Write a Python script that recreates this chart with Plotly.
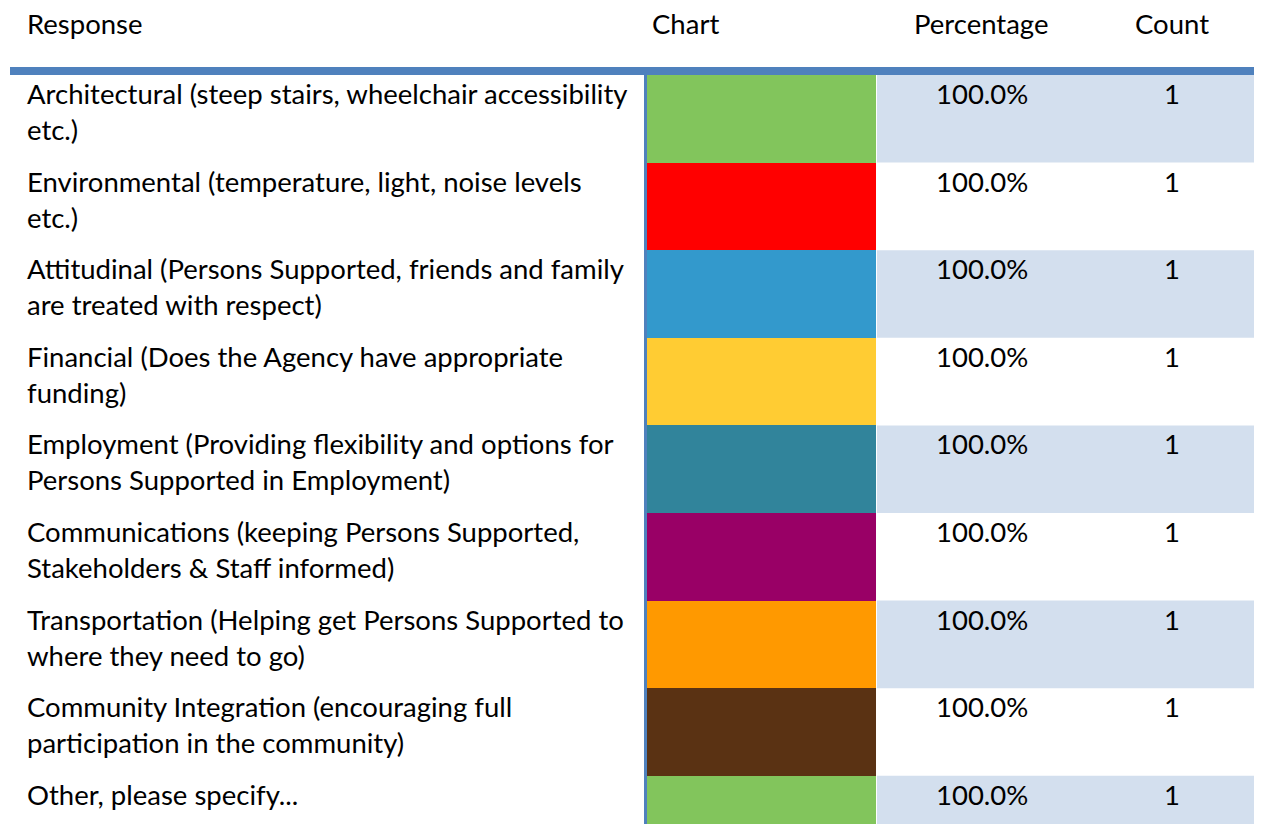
import plotly.graph_objects as go

responses = [
    "Architectural (steep stairs, wheelchair accessibility<br>etc.)",
    "Environmental (temperature, light, noise levels<br>etc.)",
    "Attitudinal (Persons Supported, friends and family<br>are treated with respect)",
    "Financial (Does the Agency have appropriate<br>funding)",
    "Employment (Providing flexibility and options for<br>Persons Supported in Employment)",
    "Communications (keeping Persons Supported,<br>Stakeholders & Staff informed)",
    "Transportation (Helping get Persons Supported to<br>where they need to go)",
    "Community Integration (encouraging full<br>participation in the community)",
    "Other, please specify...",
]
percentages = [100.0, 100.0, 100.0, 100.0, 100.0, 100.0, 100.0, 100.0, 100.0]
counts = [1, 1, 1, 1, 1, 1, 1, 1, 1]
bar_colors = ["#82C55C", "#FF0000", "#3399CC", "#FFCC33", "#31849B",
              "#990066", "#FF9900", "#5A3213", "#82C55C"]
headers = ["Response", "Chart", "Percentage", "Count"]

# the page body adds an 8px margin; work in screen pixels and convert
OFF = 8
W, H = 1262 - OFF, 824 - OFF
TOP = 75 - OFF
FONT = "Lato"
FS = 27.5
BORDER = "#4F81BD"
BAND = "#D3DFEE"


def px(xs):
    return (xs - OFF) / W


rows = list(range(len(responses)))
row_px = 87.6
plot_h = H - TOP
y_bottom = -0.5 + plot_h / row_px

fig = go.Figure()
fig.add_trace(go.Bar(
    x=percentages, y=rows, orientation="h", width=1,
    marker=dict(color=bar_colors, line=dict(width=0)),
    xaxis="x2", yaxis="y", hoverinfo="skip", showlegend=False,
))

shapes = []
for i in rows:
    if i % 2 == 0:
        shapes.append(dict(type="rect", xref="paper", yref="y",
                           x0=px(877), x1=px(1257), y0=i - 0.5, y1=i + 0.5,
                           fillcolor=BAND, line=dict(width=0), layer="below"))
shapes.append(dict(type="rect", xref="paper", yref="paper",
                   x0=px(10), x1=px(1260), y0=1, y1=1 + 8 / plot_h,
                   fillcolor=BORDER, line=dict(width=0)))
shapes.append(dict(type="rect", xref="paper", yref="paper",
                   x0=px(644), x1=px(647), y0=0, y1=1,
                   fillcolor=BORDER, line=dict(width=0)))
shapes.append(dict(type="rect", xref="paper", yref="paper",
                   x0=px(1257), x1=px(1260), y0=0, y1=1,
                   fillcolor=BORDER, line=dict(width=0)))

annotations = []
tfont = dict(family=FONT, size=FS, color="#000000")
for i in rows:
    annotations.append(dict(x=px(24.5), xref="paper", y=i - 0.5, yref="y",
                            text=responses[i], showarrow=False, xanchor="left",
                            yanchor="top", align="left", yshift=0, font=tfont))
    annotations.append(dict(x=px(981.5), xref="paper", y=i - 0.5, yref="y",
                            text=f"{percentages[i]:.1f}%", showarrow=False,
                            xanchor="center", yanchor="top", yshift=0, font=tfont))
    annotations.append(dict(x=px(1172), xref="paper", y=i - 0.5, yref="y",
                            text=str(counts[i]), showarrow=False,
                            xanchor="center", yanchor="top", yshift=0, font=tfont))

header_x = [(24.5, "left"), (685, "center"), (981, "center"), (1171.5, "center")]
for (hx, anc), h in zip(header_x, headers):
    annotations.append(dict(x=px(hx), xref="paper",
                            y=1 + (TOP - (23 - OFF)) / plot_h, yref="paper",
                            text=h, showarrow=False, xanchor=anc, yanchor="middle",
                            font=tfont))

fig.update_layout(
    width=W, height=H,
    margin=dict(l=0, r=0, t=TOP, b=0, pad=0),
    paper_bgcolor="white", plot_bgcolor="white",
    xaxis=dict(visible=False, domain=[0, 1], range=[0, 1]),
    xaxis2=dict(visible=False, domain=[px(647), px(876)], range=[0, 100],
                anchor="y"),
    yaxis=dict(visible=False, range=[y_bottom, -0.5]),
    shapes=shapes, annotations=annotations, bargap=0,
)
fig.write_html("out.html")
